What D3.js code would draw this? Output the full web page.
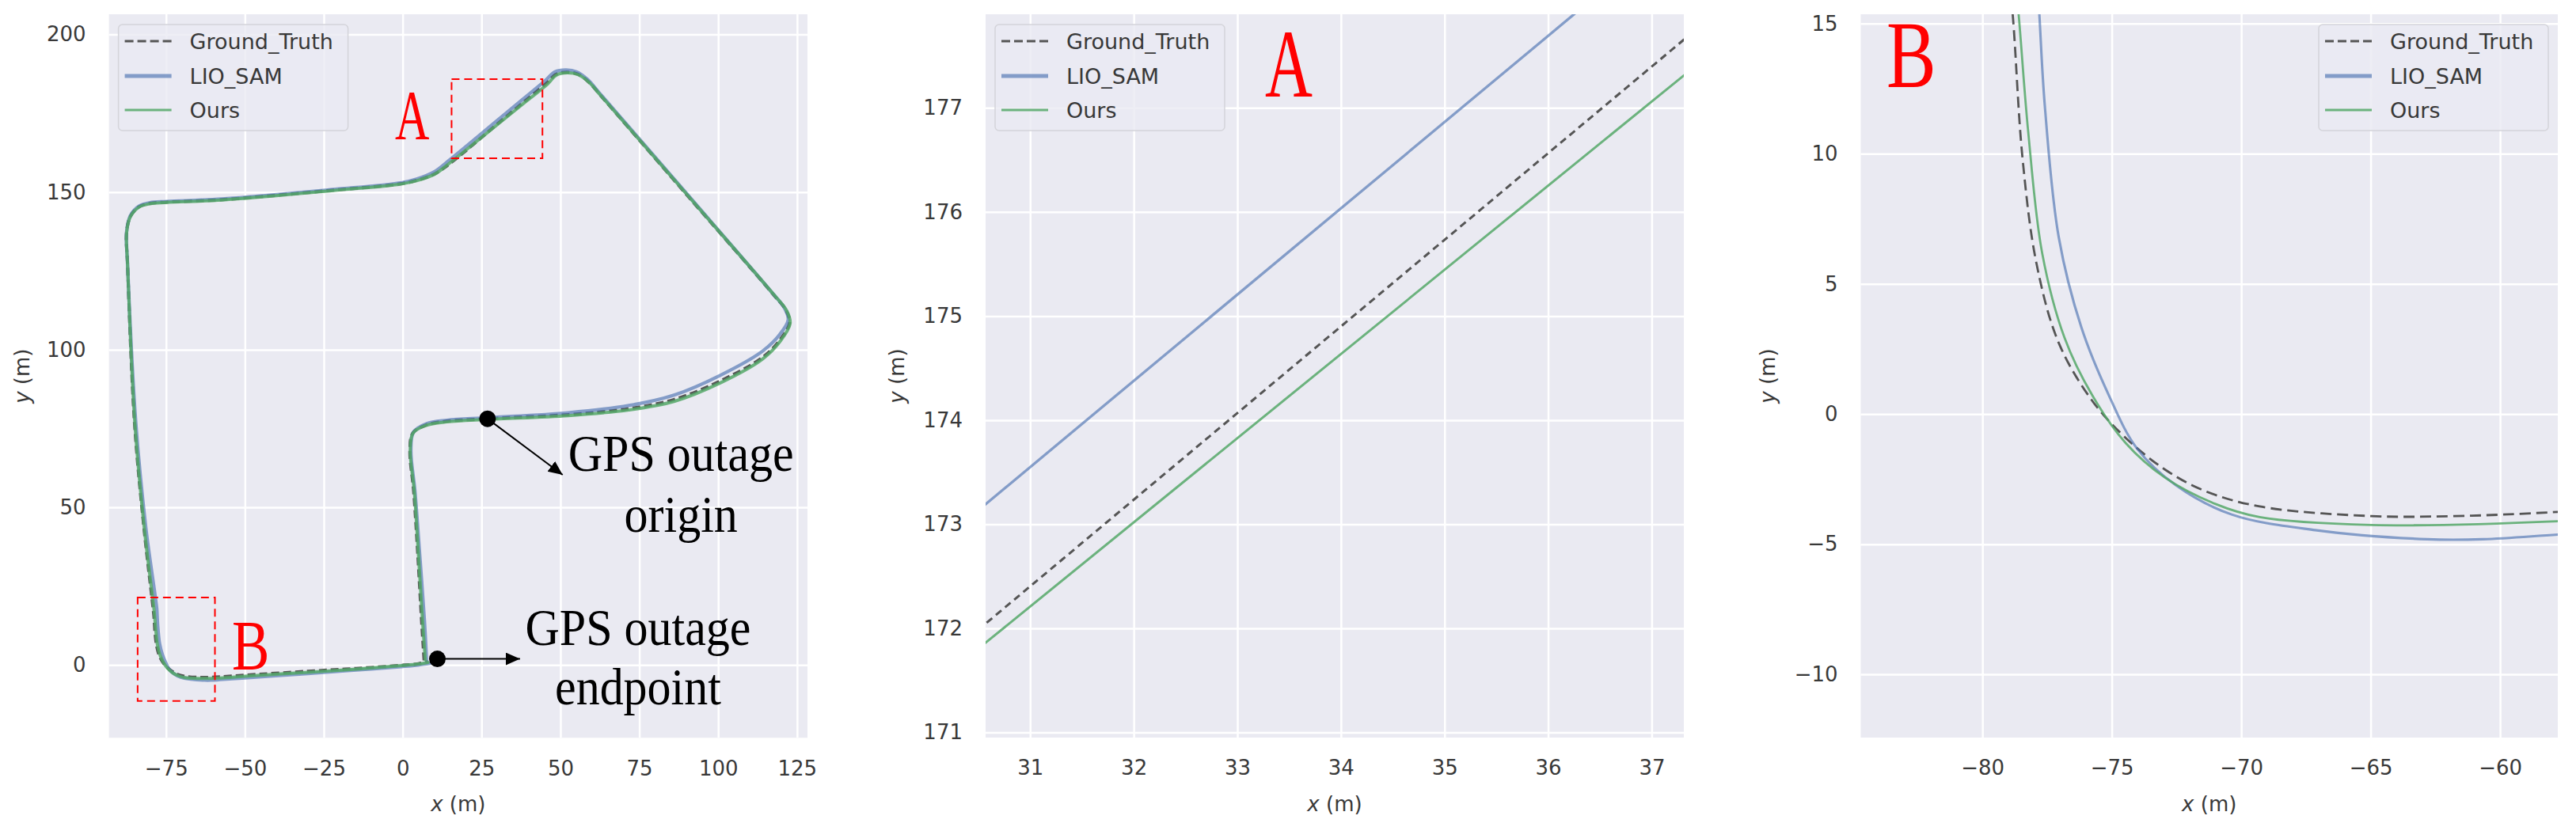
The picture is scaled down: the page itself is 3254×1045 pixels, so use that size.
<!DOCTYPE html>
<html><head><meta charset="utf-8">
<script src="https://cdn.jsdelivr.net/npm/d3@7"></script>
<style>body{margin:0;background:#fff}svg{display:block}</style>
</head><body>
<svg id="chart" width="3254" height="1045"></svg>
<script>
// ---------------- data ----------------
const seriesNames = ["Ground_Truth", "LIO_SAM", "Ours"];

const gtPath = [[6.8,1.5],[6.0,14],[4.8,35],[3.5,55],[2.3,68],[3.2,73.5],[7.4,76.1],[14,77.3],[26.8,78.1],[52.5,79.4],[71.7,81.3],[86,84.2],[100.5,90],[114,97.5],[119.5,103],[122.6,108.5],[121.5,112.5],[117.5,117.5],[90,149.2],[62.6,180.8],[59,184.9],[55.5,187.4],[52,188.0],[48.5,187.3],[45.8,184.73],[38,178.23],[30,171.57],[15,159.07],[10,155.7],[4.4,153.7],[-0.8,152.6],[-22,150.6],[-57.2,147.6],[-74.8,146.8],[-80.1,146.4],[-83.6,145.3],[-86.3,142.3],[-87.5,137.2],[-87.2,127.2],[-85.0,77.0],[-82.0,43.5],[-79.1,18],[-78.83,15.36],[-78.45,9.83],[-77.91,5.78],[-77.05,2.73],[-75.75,0.5],[-74.46,-0.92],[-72.95,-2.13],[-71.44,-2.94],[-69.29,-3.55],[-64.98,-3.92],[-61.75,-3.92],[-57.76,-3.76],[-50,-3.25],[-30,-2.0],[-14.7,-1.1],[-0.3,-0.1],[5,0.4],[8,1.0]];

const lioPath = [[7.6,1.0],[6.9,14],[5.4,35],[3.9,55],[2.6,68],[3.4,73.8],[7.5,76.5],[14,77.6],[26.8,78.4],[52.5,80.0],[71.7,82.3],[86,85.6],[100.5,91.8],[114,99.5],[119.5,104.8],[122.2,109.5],[121.0,113.2],[117.0,118.2],[89.6,150.0],[62.2,181.6],[58.6,185.7],[55.2,188.1],[51.8,188.7],[48.2,188.1],[45.2,185.32],[38,179.35],[30,172.72],[15,160.28],[10,156.4],[4.4,154.1],[-0.8,152.9],[-22,150.8],[-57.2,147.8],[-74.8,147.0],[-80.1,146.6],[-83.6,145.5],[-86.3,142.5],[-87.5,137.4],[-87.2,127.2],[-84.6,77.0],[-81.4,43.5],[-77.95,18],[-77.80,15.36],[-77.59,11.86],[-77.05,6.79],[-76.18,3.34],[-75.11,0.71],[-74.03,-1.32],[-72.52,-2.74],[-70.37,-3.86],[-67.14,-4.46],[-62.82,-4.81],[-60.67,-4.81],[-57.76,-4.63],[-50,-4.1],[-30,-2.7],[-14.7,-1.6],[-0.3,-0.5],[5,0.0],[9,0.6]];

const oursPath = [[7.2,1.3],[6.3,14],[5.0,35],[3.7,55],[2.4,68],[3.3,73.6],[7.4,76.0],[14,77.1],[26.8,77.9],[52.5,79.1],[71.7,80.9],[86,83.6],[100.5,89.4],[114,97.0],[119.6,102.6],[122.8,108.3],[121.7,112.4],[117.7,117.4],[90.2,149.1],[62.8,180.6],[59.2,184.7],[55.7,187.2],[52.2,187.8],[48.7,187.1],[46.0,184.33],[38,177.87],[30,171.40],[15,159.28],[10,155.6],[4.4,153.6],[-0.8,152.5],[-22,150.5],[-57.2,147.5],[-74.8,146.7],[-80.1,146.3],[-83.6,145.2],[-86.3,142.2],[-87.5,137.1],[-87.2,127.1],[-84.9,77.0],[-81.9,43.5],[-78.85,18],[-78.6,15.36],[-78.23,10.84],[-77.69,6.18],[-76.83,2.94],[-75.75,0.71],[-74.46,-1.12],[-72.95,-2.44],[-71.01,-3.45],[-69.29,-3.96],[-64.98,-4.26],[-57.76,-4.12],[-50,-3.6],[-30,-2.3],[-14.7,-1.3],[-0.3,-0.2],[5,0.3],[8.4,0.9]];

const p1XTicks = [-75, -50, -25, 0, 25, 50, 75, 100, 125];
const p1YTicks = [0, 50, 100, 150, 200];
const p2XTicks = [31, 32, 33, 34, 35, 36, 37];
const p2YTicks = [171, 172, 173, 174, 175, 176, 177];
const p3XTicks = [-80, -75, -70, -65, -60];
const p3YTicks = [-10, -5, 0, 5, 10, 15];

const boxA = [[15.5, 160.7], [44.3, 185.8]];
const boxB = [[-84.0, -11.4], [-59.5, 21.4]];
const outagePoints = [[26.9, 78.1], [11.0, 1.93]];
const outageLabels = [["GPS outage", "origin"], ["GPS outage", "endpoint"]];

// ---------------- layout / style ----------------
const svg = d3.select("#chart");
const BG = "#EAEAF2", TXT = "#383838";
const colors = {Ground_Truth: "#555555", LIO_SAM: "#4C72B0", Ours: "#55A868"};
const opac = {Ground_Truth: 1, LIO_SAM: 0.65, Ours: 0.85};
const paths = {Ground_Truth: gtPath, LIO_SAM: lioPath, Ours: oursPath};
const fmt = d3.format("d");

const panels = [
  {left:137.6, right:1020, top:18, bottom:932.3, xd:[-93.1,128.3], yd:[-23.1,206.4], xt:p1XTicks, yt:p1YTicks, lw:4, dash:"10,5", legend:"left", ylab:109},
  {left:1245, right:2127, top:18, bottom:932, xd:[30.57,37.31], yd:[170.95,177.90], xt:p2XTicks, yt:p2YTicks, lw:3, dash:"9,6", legend:"left", ylab:111},
  {left:2350.5, right:3231, top:18, bottom:932, xd:[-84.70,-57.77], yd:[-12.43,15.36], xt:p3XTicks, yt:p3YTicks, lw:2.8, dash:"14,7", legend:"right", ylab:117}
];

const defs = svg.append("defs");
defs.append("marker").attr("id","arrow").attr("markerUnits","userSpaceOnUse")
  .attr("markerWidth",20).attr("markerHeight",18).attr("refX",18).attr("refY",8).attr("orient","auto")
  .append("path").attr("d","M0,0 L18,8 L0,16 Z").attr("fill","#000");

panels.forEach((p, i) => {
  const w = p.right - p.left, h = p.bottom - p.top;
  const x = d3.scaleLinear().domain(p.xd).range([p.left, p.right]);
  const y = d3.scaleLinear().domain(p.yd).range([p.bottom, p.top]);
  p.x = x; p.y = y;
  const g = svg.append("g");
  g.append("rect").attr("x",p.left).attr("y",p.top).attr("width",w).attr("height",h).attr("fill",BG);

  // grid
  const gx = g.append("g").attr("transform",`translate(0,${p.bottom})`)
    .call(d3.axisBottom(x).tickValues(p.xt).tickSize(-h).tickFormat(""));
  const gy = g.append("g").attr("transform",`translate(${p.left},0)`)
    .call(d3.axisLeft(y).tickValues(p.yt).tickSize(-w).tickFormat(""));
  [gx, gy].forEach(a => { a.select(".domain").remove(); a.selectAll("line").attr("stroke","#fff").attr("stroke-width",2.5); });

  // tick labels
  const lx = g.append("g").attr("transform",`translate(0,${p.bottom})`)
    .call(d3.axisBottom(x).tickValues(p.xt).tickFormat(fmt).tickSize(0).tickPadding(29));
  const ly = g.append("g").attr("transform",`translate(${p.left},0)`)
    .call(d3.axisLeft(y).tickValues(p.yt).tickFormat(fmt).tickSize(0).tickPadding(29));
  [lx, ly].forEach(a => {
    a.select(".domain").remove();
    a.selectAll("text").attr("font-family","DejaVu Sans").attr("font-size",26).attr("fill",TXT);
  });

  // axis labels
  const xl = g.append("text").attr("x",(p.left+p.right)/2).attr("y",1025).attr("text-anchor","middle")
    .attr("font-family","DejaVu Sans").attr("font-size",26).attr("fill",TXT);
  xl.append("tspan").attr("font-style","italic").text("x");
  xl.append("tspan").text(" (m)");
  const yc = (p.top+p.bottom)/2, yx = p.left - p.ylab + 8;
  const yl = g.append("text").attr("transform",`translate(${yx},${yc}) rotate(-90)`).attr("text-anchor","middle")
    .attr("font-family","DejaVu Sans").attr("font-size",26).attr("fill",TXT);
  yl.append("tspan").attr("font-style","italic").text("y");
  yl.append("tspan").text(" (m)");

  // lines
  const cid = "clip" + i;
  defs.append("clipPath").attr("id",cid).append("rect").attr("x",p.left).attr("y",p.top).attr("width",w).attr("height",h);
  const line = d3.line().x(d => x(d[0])).y(d => y(d[1])).curve(d3.curveCatmullRom.alpha(0.5));
  const lg = g.append("g").attr("clip-path",`url(#${cid})`);
  seriesNames.forEach(s => {
    lg.append("path").datum(paths[s]).attr("d",line).attr("fill","none")
      .attr("stroke",colors[s]).attr("stroke-opacity",opac[s])
      .attr("stroke-width", s === "LIO_SAM" ? p.lw + 0.3 : p.lw)
      .attr("stroke-dasharray", s === "Ground_Truth" ? p.dash : null)
      .attr("stroke-linejoin","round");
  });

  // legend
  const LW = 290, LH = 134;
  const lx0 = p.legend === "left" ? p.left + 12 : p.right - 12 - LW, ly0 = p.top + 13;
  const leg = g.append("g");
  leg.append("rect").attr("x",lx0).attr("y",ly0).attr("width",LW).attr("height",LH).attr("rx",5)
    .attr("fill",BG).attr("fill-opacity",0.8).attr("stroke","#d4d4da").attr("stroke-width",1.5);
  const rowsY = [21, 65, 108];
  seriesNames.forEach((s, k) => {
    const ry = ly0 + rowsY[k];
    leg.append("line").attr("x1",lx0+8).attr("x2",lx0+67).attr("y1",ry).attr("y2",ry)
      .attr("stroke",colors[s]).attr("stroke-opacity",opac[s])
      .attr("stroke-width", s === "LIO_SAM" ? 5 : 3)
      .attr("stroke-dasharray", s === "Ground_Truth" ? "11,5" : null);
    leg.append("text").attr("x",lx0+90).attr("y",ry+10).attr("font-family","DejaVu Sans")
      .attr("font-size",27).attr("fill",TXT).text(s);
  });
});

// ---------------- panel 1 annotations ----------------
const P1 = panels[0];
[boxA, boxB].forEach(b => {
  svg.append("rect").attr("x",P1.x(b[0][0])).attr("y",P1.y(b[1][1]))
    .attr("width",P1.x(b[1][0]) - P1.x(b[0][0])).attr("height",P1.y(b[0][1]) - P1.y(b[1][1]))
    .attr("fill","none").attr("stroke","#ff0000").attr("stroke-width",2).attr("stroke-dasharray","10,6");
});

// arrows (tips in data units of panel 1)
const arrowTips = [[50.7, 60.3], [37.2, 1.93]];
outagePoints.forEach((pt, k) => {
  svg.append("line").attr("x1",P1.x(pt[0])).attr("y1",P1.y(pt[1]))
    .attr("x2",P1.x(arrowTips[k][0])).attr("y2",P1.y(arrowTips[k][1]))
    .attr("stroke","#000").attr("stroke-width",2).attr("marker-end","url(#arrow)");
  svg.append("circle").attr("cx",P1.x(pt[0])).attr("cy",P1.y(pt[1])).attr("r",10.5).attr("fill","#000");
});
const labelPos = [[88.2, 61.5, 42.3], [74.6, 6.3, -12.6]];
outageLabels.forEach((lines, k) => {
  lines.forEach((t, j) => {
    const cx = P1.x(labelPos[k][0]), by = P1.y(labelPos[k][1 + j]);
    svg.append("text").attr("transform",`translate(${cx},${by}) scale(1,1.08)`)
      .attr("text-anchor","middle").attr("font-family","Liberation Serif").attr("font-size",60)
      .attr("fill","#000").text(t);
  });
});

// zoom letters
const letters = [
  {t:"A", x:499, y:175, f:60, sy:1.47},
  {t:"B", x:293, y:845, f:71, sy:1.25},
  {t:"A", x:1598, y:122, f:83, sy:1.47},
  {t:"B", x:2383, y:110, f:94, sy:1.29}
];
letters.forEach(L => {
  svg.append("text").attr("transform",`translate(${L.x},${L.y}) scale(1,${L.sy})`)
    .attr("font-family","Liberation Serif").attr("font-size",L.f).attr("fill","#ff0000").text(L.t);
});
</script>
</body></html>
